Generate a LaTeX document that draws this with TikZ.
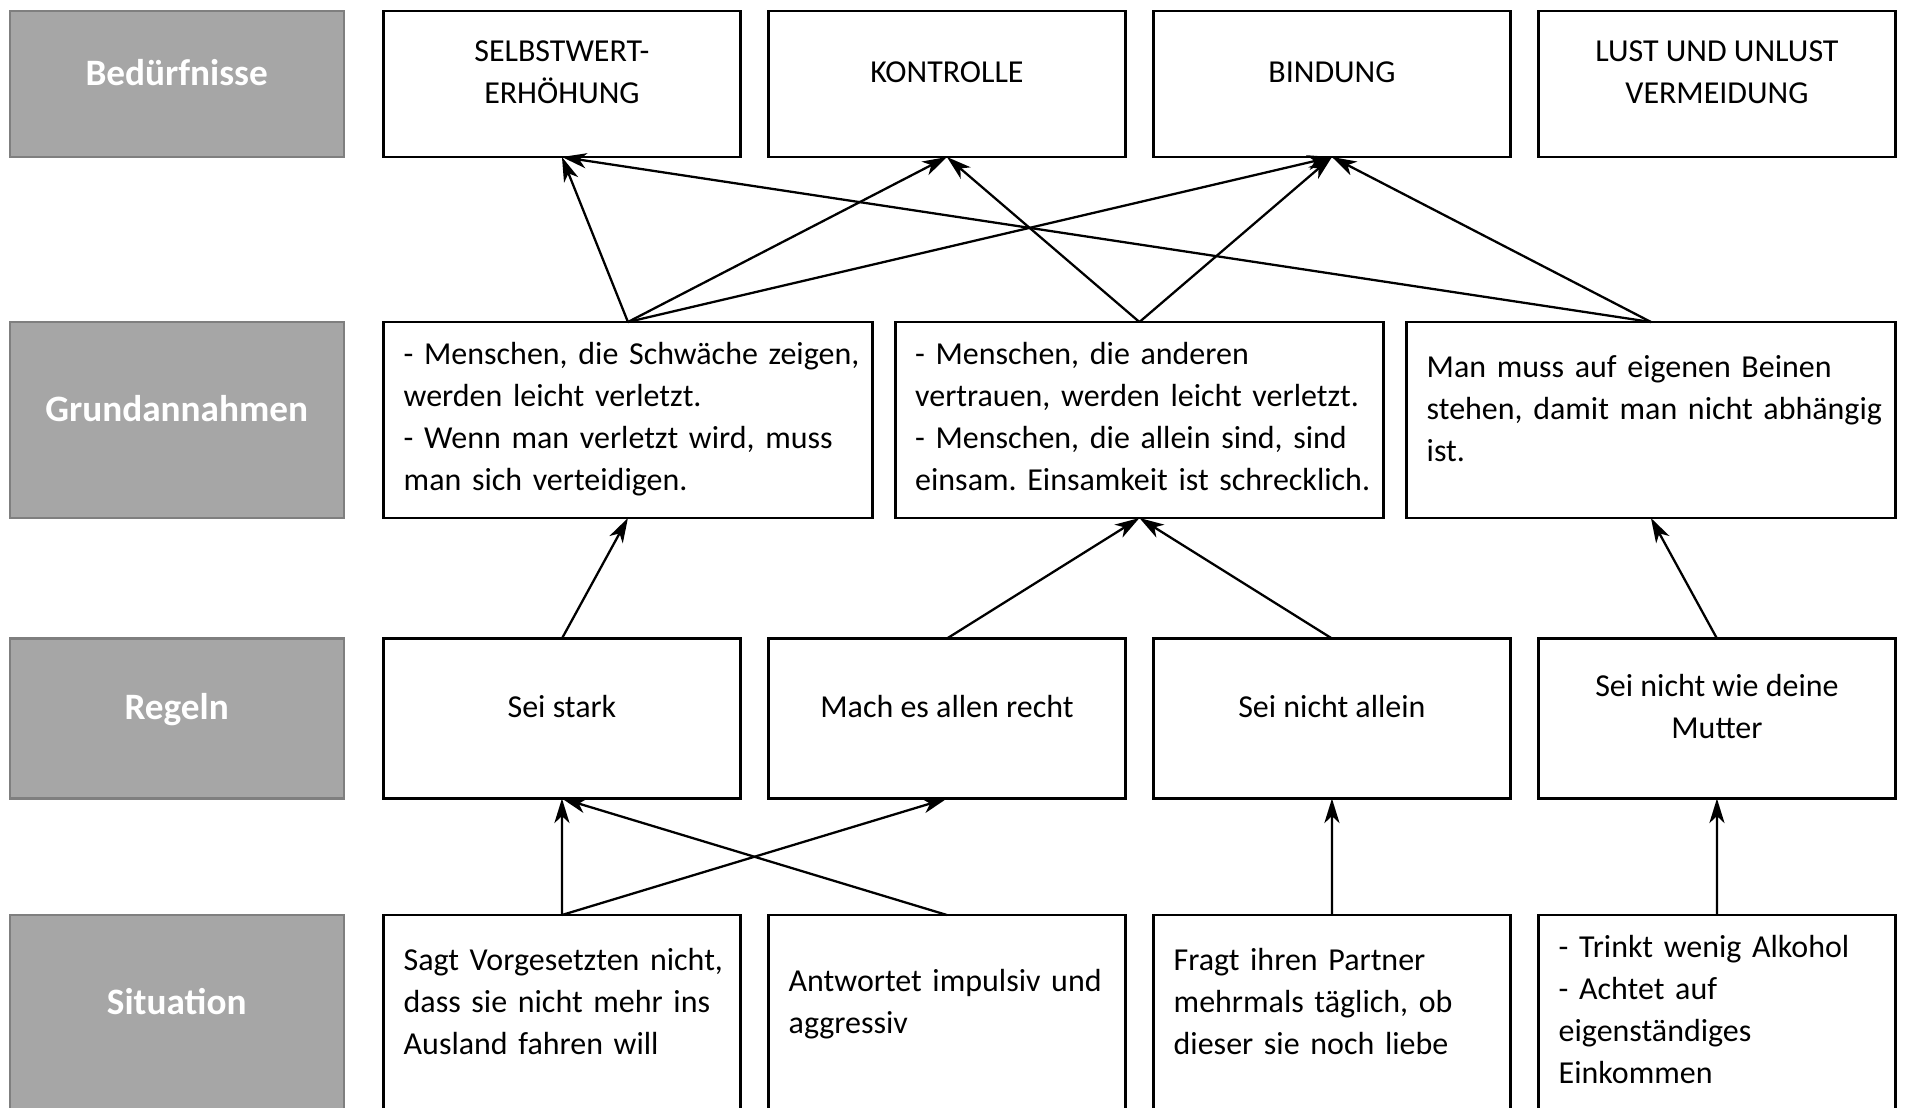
\documentclass[tikz,border=0pt]{standalone}
\usepackage{fontspec}
\setmainfont{Carlito}
\frenchspacing
\usetikzlibrary{arrows.meta,positioning}
\definecolor{katfill}{HTML}{A6A6A6}
\definecolor{katline}{HTML}{7F7F7F}
\tikzset{
  kat/.style = {draw=katline, fill=katfill, line width=0.6pt, outer sep=0pt, rectangle, minimum width=3.34cm, text=white, font=\fontsize{10.6}{13}\selectfont\bfseries, align=center, execute at end node={\rule[-0.24cm]{0pt}{0pt}}},
  cbox/.style = {draw=black, line width=0.8pt, outer sep=0pt, rectangle, minimum width=3.565cm, font=\fontsize{9.1}{11.95}\selectfont, align=center, execute at end node={\rule[-0.24cm]{0pt}{0pt}}},
  lbox/.style = {draw=black, line width=0.8pt, outer sep=0pt, rectangle, inner xsep=0.2cm, font=\fontsize{9.1}{11.95}\selectfont, align=left, execute at begin node={\rightskip=0pt plus 1fil minus 2cm}, execute at end node={\rule[-#1]{0pt}{0pt}}},
  lbox/.default = 0.24cm,
  arrow/.style = {line width=0.65pt, ->, >={Stealth[length=7pt, width=4.3pt, inset=2pt]}}
}

\begin{document}
\begin{tikzpicture}
            \useasboundingbox (0,0) rectangle (19.07,-11.08);
            \node[kat, minimum height=1.46cm, anchor=north west] (kb) at (0.097,-0.11) {Bedürfnisse};
            \node[cbox, minimum height=1.46cm, right=0.40cm of kb] (b1) {SELBSTWERT-\\ERHÖHUNG};
            \node[cbox, minimum height=1.46cm, right=0.285cm of b1] (b2) {KONTROLLE};
            \node[cbox, minimum height=1.46cm, right=0.285cm of b2] (b3) {BINDUNG};
            \node[cbox, minimum height=1.46cm, right=0.285cm of b3] (b4) {LUST UND UNLUST\\VERMEIDUNG};
            \node[kat, minimum height=1.96cm, below=1.65cm of kb] (kg) {Grundannahmen};
            \node[lbox=0.08cm, minimum height=1.96cm, text width=4.485cm, right=0.40cm of kg] (g1) {- Menschen, die Schwäche zeigen,\\werden leicht verletzt.\\- Wenn man verletzt wird, muss\\man sich verteidigen.};
            \node[lbox=0.08cm, minimum height=1.96cm, text width=4.485cm, right=0.23cm of g1] (g2) {- Menschen, die anderen\\vertrauen, werden leicht verletzt.\\- Menschen, die allein sind, sind\\einsam. Einsamkeit ist schrecklich.};
            \node[lbox, minimum height=1.96cm, text width=4.485cm, right=0.23cm of g2] (g3) {Man muss auf eigenen Beinen\\stehen, damit man nicht abhängig\\ist.};
            \node[kat, minimum height=1.60cm, below=1.205cm of kg] (kr) {Regeln};
            \node[cbox, minimum height=1.60cm, right=0.40cm of kr] (r1) {Sei stark};
            \node[cbox, minimum height=1.60cm, right=0.285cm of r1] (r2) {Mach es allen recht};
            \node[cbox, minimum height=1.60cm, right=0.285cm of r2] (r3) {Sei nicht allein};
            \node[cbox, minimum height=1.60cm, right=0.285cm of r3] (r4) {Sei nicht wie deine\\Mutter};
            \node[kat, minimum height=1.96cm, below=1.165cm of kr] (ks) {Situation};
            \node[lbox, minimum height=1.96cm, text width=3.165cm, right=0.40cm of ks] (s1) {Sagt Vorgesetzten nicht,\\dass sie nicht mehr ins\\Ausland fahren will};
            \node[lbox, minimum height=1.96cm, text width=3.165cm, right=0.285cm of s1] (s2) {Antwortet impulsiv und\\aggressiv};
            \node[lbox, minimum height=1.96cm, text width=3.165cm, right=0.285cm of s2] (s3) {Fragt ihren Partner\\mehrmals täglich, ob\\dieser sie noch liebe};
            \node[lbox=0.08cm, minimum height=1.96cm, text width=3.165cm, right=0.285cm of s3] (s4) {- Trinkt wenig Alkohol\\- Achtet auf\\eigenständiges\\Einkommen};
            \draw[arrow] (g1.north) -- (b1.south);
            \draw[arrow] (g1.north) -- (b2.south);
            \draw[arrow] (g1.north) -- (b3.south);
            \draw[arrow] (g2.north) -- (b2.south);
            \draw[arrow] (g2.north) -- (b3.south);
            \draw[arrow] (g3.north) -- (b1.south);
            \draw[arrow] (g3.north) -- (b3.south);
            \draw[arrow] (r1.north) -- (g1.south);
            \draw[arrow] (r2.north) -- (g2.south);
            \draw[arrow] (r3.north) -- (g2.south);
            \draw[arrow] (r4.north) -- (g3.south);
            \draw[arrow] (s1.north) -- (r1.south);
            \draw[arrow] (s1.north) -- (r2.south);
            \draw[arrow] (s2.north) -- (r1.south);
            \draw[arrow] (s3.north) -- (r3.south);
            \draw[arrow] (s4.north) -- (r4.south);
\end{tikzpicture}
\end{document}
